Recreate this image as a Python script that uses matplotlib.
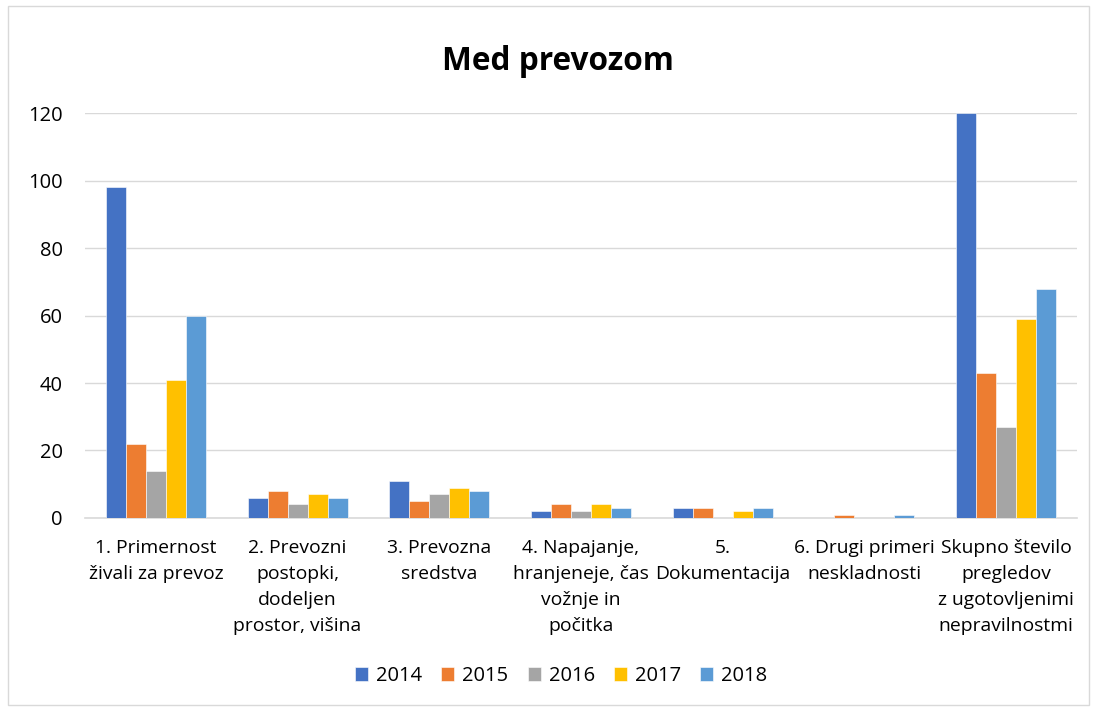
import matplotlib
matplotlib.use("Agg")
import matplotlib.pyplot as plt
import numpy as np
from matplotlib.patches import Rectangle

plt.rcParams['font.family'] = ['Open Sans', 'DejaVu Sans']

categories = [
    "1. Primernost\nživali za prevoz",
    "2. Prevozni\npostopki,\ndodeljen\nprostor, višina",
    "3. Prevozna\nsredstva",
    "4. Napajanje,\nhranjeneje, čas\nvožnje in\npočitka",
    "5.\nDokumentacija",
    "6. Drugi primeri\nneskladnosti",
    "Skupno število\npregledov\nz ugotovljenimi\nnepravilnostmi",
]
years = ["2014", "2015", "2016", "2017", "2018"]
v2014 = [98, 6, 11, 2, 3, 0, 120]
v2015 = [22, 8, 5, 4, 3, 1, 43]
v2016 = [14, 4, 7, 2, 0, 0, 27]
v2017 = [41, 7, 9, 4, 2, 0, 59]
v2018 = [60, 6, 8, 3, 3, 1, 68]
series = [v2014, v2015, v2016, v2017, v2018]
colors = ["#4472C4", "#ED7D31", "#A5A5A5", "#FFC000", "#5B9BD5"]

fig = plt.figure(figsize=(10.94, 7.09), dpi=100)
ax = fig.add_axes([0.0777, 0.2694, 0.9068, 0.5712])

x = np.arange(len(categories))
w = 0.141
for i, (vals, c, lab) in enumerate(zip(series, colors, years)):
    ax.bar(x + (i - 2) * w, vals, w, color=c, label=lab, zorder=3,
           edgecolor='white', linewidth=0.4)

ax.set_xlim(-0.5, len(categories) - 0.5)
ax.set_ylim(0, 120)
ax.set_yticks(range(0, 121, 20))
ax.yaxis.grid(True, color='#D9D9D9', linewidth=1, zorder=0)
for s in ['top', 'right', 'left']:
    ax.spines[s].set_visible(False)
ax.spines['bottom'].set_color('#D9D9D9')
ax.spines['bottom'].set_linewidth(1.2)
ax.tick_params(axis='both', length=0, colors='#000000')
ax.tick_params(axis='y', pad=16, labelsize=14.5)
ax.tick_params(axis='x', pad=15)
ax.set_xticks(x)
ax.set_xticklabels(categories, fontsize=13.9, linespacing=1.57)

fig.text(0.510, 0.913, "Med prevozom", ha='center', va='center',
         fontsize=22.8, fontweight='bold')

ax.legend(loc='center', bbox_to_anchor=(0.480, -0.39), ncol=5, frameon=False,
          fontsize=14.5, handlelength=0.65, handleheight=0.65, columnspacing=0.95,
          handletextpad=0.4)

fig.patches.append(Rectangle((0.007, 0.006), 0.988, 0.985, transform=fig.transFigure,
                             fill=False, edgecolor='#D9D9D9', linewidth=1))

fig.savefig("out.png", dpi=100)
